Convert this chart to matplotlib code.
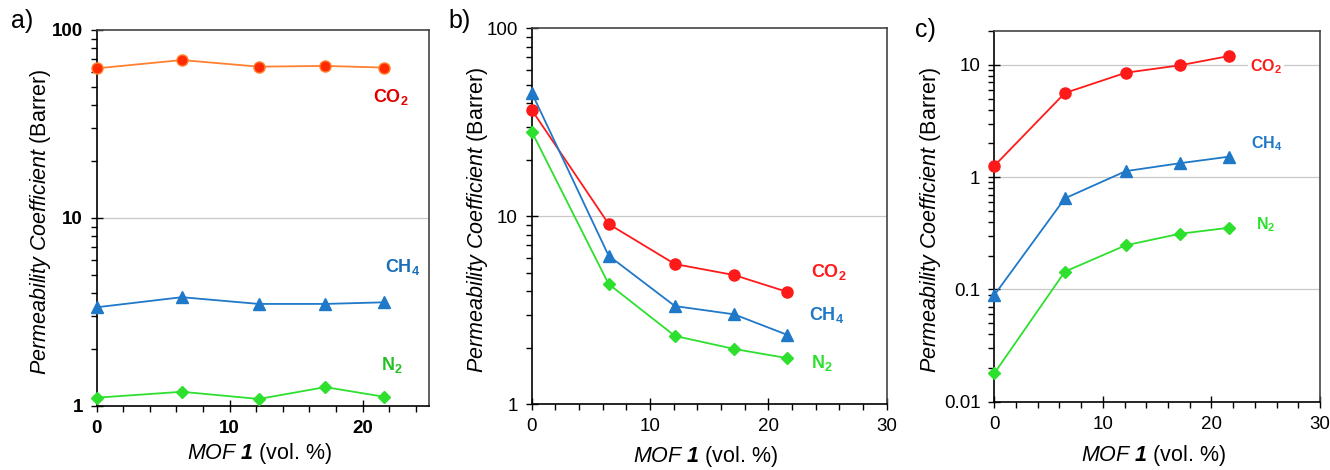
import matplotlib
matplotlib.use("Agg")
import matplotlib.pyplot as plt
from matplotlib.ticker import LogLocator, NullFormatter, MultipleLocator

plt.rcParams['font.family'] = ['Liberation Sans', 'DejaVu Sans']
plt.rcParams['mathtext.fontset'] = 'custom'
plt.rcParams['mathtext.rm'] = 'Liberation Sans'
plt.rcParams['mathtext.it'] = 'Liberation Sans:italic'
plt.rcParams['mathtext.bf'] = 'Liberation Sans:bold'
plt.rcParams['mathtext.bfit'] = 'Liberation Sans:italic:bold'

# MOF loading (vol. %)
mof_a = [0, 6.4, 12.2, 17.2, 21.6]
mof_b = [0, 6.5, 12.1, 17.1, 21.6]
mof_c = [0, 6.5, 12.1, 17.1, 21.6]

# a) permeability (Barrer)
co2_a = [62.5, 69.2, 63.8, 64.4, 63.1]
ch4_a = [3.35, 3.79, 3.49, 3.49, 3.56]
n2_a = [1.107, 1.19, 1.09, 1.26, 1.12]

# b)
co2_b = [36.8, 9.1, 5.57, 4.87, 3.96]
ch4_b = [45.4, 6.17, 3.33, 3.01, 2.34]
n2_b = [28.2, 4.36, 2.31, 1.97, 1.76]

# c)
co2_c = [1.26, 5.61, 8.5, 9.9, 11.97]
ch4_c = [0.089, 0.647, 1.13, 1.33, 1.52]
n2_c = [0.0179, 0.144, 0.247, 0.313, 0.354]

RED = '#ff1a1a'
BLUE = '#1f78c8'
GREEN = '#2ee02e'

ylab = r'$\mathit{Permeability\ Coefficient}$ (Barrer)'
xlab = r'$\mathit{MOF}\ \mathbfit{1}$ (vol. %)'

fig = plt.figure(figsize=(13.3, 4.7), dpi=100)
ax_a = fig.add_axes([0.0727, 0.1362, 0.2499, 0.800])
ax_b = fig.add_axes([0.3998, 0.1398, 0.2669, 0.800])
ax_c = fig.add_axes([0.7476, 0.1453, 0.2449, 0.7887])


def style_axes(ax, xmax, ylim, grid_vals, ylab_x, xlab_y, bold=False):
    ax.set_yscale('log')
    ax.set_xlim(0, xmax)
    ax.set_ylim(*ylim)
    ax.xaxis.set_major_locator(MultipleLocator(10))
    ax.xaxis.set_minor_locator(MultipleLocator(2))
    ax.yaxis.set_major_locator(LogLocator(base=10))
    ax.yaxis.set_minor_locator(LogLocator(base=10, subs=range(2, 10)))
    ax.yaxis.set_minor_formatter(NullFormatter())
    ax.yaxis.set_major_formatter(plt.FuncFormatter(lambda v, p: f'{v:g}'))
    ax.tick_params(which='major', direction='inout', length=8, width=1,
                   labelsize=13.5, pad=6)
    ax.tick_params(which='minor', direction='out', length=4, width=1)
    for s in ['left', 'bottom']:
        ax.spines[s].set_color('black')
        ax.spines[s].set_linewidth(1.2)
    for s in ['top', 'right']:
        ax.spines[s].set_color('#444444')
        ax.spines[s].set_linewidth(1.2)
    for g in grid_vals:
        ax.axhline(g, color='#c8c8c8', lw=0.9, zorder=0)
    if bold:
        for lbl in ax.get_xticklabels() + ax.get_yticklabels():
            lbl.set_fontweight('bold')
    ax.set_ylabel(ylab, fontsize=15.5)
    ax.set_xlabel(xlab, fontsize=15.5)
    ax.yaxis.set_label_coords(ylab_x, 0.49)
    ax.xaxis.set_label_coords(0.49, xlab_y)


# a)
ax_a.plot(mof_a, co2_a, '-o', color='#ff8030', mfc='#ff2a00', mec='#ff8030',
          ms=8, lw=1.3, clip_on=False, zorder=3)
ax_a.plot(mof_a, ch4_a, '-^', color=BLUE, ms=8, lw=1.3, clip_on=False, zorder=3)
ax_a.plot(mof_a, n2_a, '-D', color=GREEN, ms=6, lw=1.3, clip_on=False, zorder=3)
style_axes(ax_a, 25, (1, 100), [10], -0.132, -0.094, bold=True)
ax_a.text(22.1, 44, r'$\mathbf{CO_2}$', color='#e00000', fontsize=13, ha='center', va='center')
ax_a.text(23.0, 5.5, r'$\mathbf{CH_4}$', color='#1a6fb8', fontsize=13, ha='center', va='center')
ax_a.text(22.2, 1.65, r'$\mathbf{N_2}$', color='#22c022', fontsize=13, ha='center', va='center')

# b)
ax_b.plot(mof_b, co2_b, '-o', color=RED, ms=8, lw=1.3, clip_on=False, zorder=3)
ax_b.plot(mof_b, ch4_b, '-^', color=BLUE, ms=8, lw=1.3, clip_on=False, zorder=3)
ax_b.plot(mof_b, n2_b, '-D', color=GREEN, ms=6, lw=1.3, clip_on=False, zorder=3)
style_axes(ax_b, 30, (1, 100), [10], -0.117, -0.106)
ax_b.text(25.1, 5.08, r'$\mathbf{CO_2}$', color=RED, fontsize=13, ha='center', va='center')
ax_b.text(24.95, 2.99, r'$\mathbf{CH_4}$', color=BLUE, fontsize=13, ha='center', va='center')
ax_b.text(24.5, 1.66, r'$\mathbf{N_2}$', color=GREEN, fontsize=13, ha='center', va='center')

# c)
ax_c.plot(mof_c, co2_c, '-o', color=RED, ms=8, lw=1.3, clip_on=False, zorder=3)
ax_c.plot(mof_c, ch4_c, '-^', color=BLUE, ms=8, lw=1.3, clip_on=False, zorder=3)
ax_c.plot(mof_c, n2_c, '-D', color=GREEN, ms=6, lw=1.3, clip_on=False, zorder=3)
style_axes(ax_c, 30, (0.01, 20), [0.1, 1, 10], -0.158, -0.112)
ax_c.text(25.0, 9.6, r'$\mathbf{CO_2}$', color=RED, fontsize=11.5, ha='center', va='center',
          bbox=dict(facecolor='white', edgecolor='none', pad=1.5))
ax_c.text(25.1, 2.0, r'$\mathbf{CH_4}$', color=BLUE, fontsize=11.5, ha='center', va='center')
ax_c.text(25.0, 0.374, r'$\mathbf{N_2}$', color=GREEN, fontsize=11.5, ha='center', va='center')

# panel letters
fig.text(0.008, 0.955, 'a)', fontsize=18, va='center')
fig.text(0.337, 0.955, 'b)', fontsize=18, va='center')
fig.text(0.688, 0.936, 'c)', fontsize=18, va='center')

fig.savefig('out.png', dpi=100)
